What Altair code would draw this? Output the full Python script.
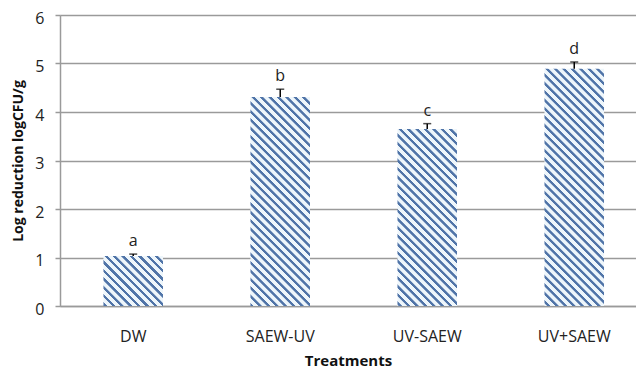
import altair as alt
import pandas as pd

categories = ["DW", "SAEW-UV", "UV-SAEW", "UV+SAEW"]
values = [1.03, 4.31, 3.65, 4.89]
errors = [0.04, 0.16, 0.11, 0.14]
letters = ["a", "b", "c", "d"]

df = pd.DataFrame({"cat": categories, "val": values, "err": errors, "lab": letters})
df["top"] = df["val"] + df["err"]

W, H = 576, 291
YMAX = 6
PAD_INNER, PAD_OUTER, ALIGN = 0.595, 0.2566, 0.576
step = W / (len(categories) - PAD_INNER + 2 * PAD_OUTER)
bw = step * (1 - PAD_INNER)
ppu = H / YMAX

DARK, LIGHT = "#5074a8", "#eef6fb"
PERIOD, DARKW = 8.4, 3.4


def stripe_gradient(w, h):
    span = w + h
    k = span / (w * w + h * h)
    stops = []
    s = 0.0
    while s < span:
        for a, b, c in ((s, s + PERIOD - DARKW, LIGHT), (s + PERIOD - DARKW, s + PERIOD, DARK)):
            a2 = min(a, span) / span
            b2 = min(b, span) / span
            stops.append({"offset": a2 + 0.0015, "color": c})
            stops.append({"offset": max(b2 - 0.0015, a2 + 0.0015), "color": c})
        s += PERIOD
    return {"gradient": "linear", "x1": 1, "y1": 0, "x2": 1 - k * w, "y2": k * h, "stops": stops}


xscale = alt.Scale(domain=categories, paddingInner=PAD_INNER, paddingOuter=PAD_OUTER, align=ALIGN)
yscale = alt.Scale(domain=[0, YMAX], nice=False)
GRAY = "#9a9a9a"
FONT = "Open Sans"

base = alt.Chart(df)

xenc = alt.X("cat:N", scale=xscale, sort=categories, title="Treatments",
             axis=alt.Axis(labelAngle=0, ticks=False, domainColor=GRAY, domainWidth=1.5,
                           labelFont=FONT, labelFontSize=16, labelColor="#222",
                           labelPadding=35, labelBaseline="alphabetic",
                           titleFont=FONT, titleFontSize=15, titleFontWeight="bold", titleColor="#111",
                           titleY=59, titleBaseline="alphabetic"))
yenc = alt.Y("val:Q", scale=yscale, title="Log reduction logCFU/g",
             axis=alt.Axis(values=[0, 1, 2, 3, 4, 5, 6], grid=True, gridColor=GRAY, gridWidth=1.5,
                           domainColor=GRAY, domainWidth=1.5, tickColor=GRAY, tickWidth=1.5, tickSize=5,
                           labelFont=FONT, labelFontSize=16, labelColor="#222", labelPadding=11,
                           labelOffset=3,
                           titleFont=FONT, titleFontSize=14, titleFontWeight="bold", titleColor="#111",
                           titleX=-42, titleBaseline="middle", titleAlign="center"))

layers = []
for c, v in zip(categories, values):
    g = stripe_gradient(bw, v * ppu)
    layers.append(
        base.transform_filter(alt.datum.cat == c).mark_bar(fill=g, stroke="transparent")
        .encode(x=xenc, y=yenc)
    )

err_rule = base.mark_rule(color="black", strokeWidth=1.5).encode(
    x=alt.X("cat:N", scale=xscale, sort=categories), y="val:Q", y2="top:Q")
err_cap = base.mark_tick(color="black", thickness=1.5, size=8, orient="horizontal").encode(
    x=alt.X("cat:N", scale=xscale, sort=categories), y="top:Q")
txt = base.mark_text(font=FONT, fontSize=16, color="#222", baseline="alphabetic", dy=-8).encode(
    x=alt.X("cat:N", scale=xscale, sort=categories), y="top:Q", text="lab:N")

chart = alt.layer(*layers, err_rule, err_cap, txt).properties(
    width=W, height=H,
    autosize=alt.AutoSizeParams(type="none"),
    padding={"left": 52, "top": 7, "right": 0, "bottom": 63},
).configure_view(stroke=None).configure(background="white")

chart.save("out.html", embed_options={"renderer": "svg", "actions": False})
